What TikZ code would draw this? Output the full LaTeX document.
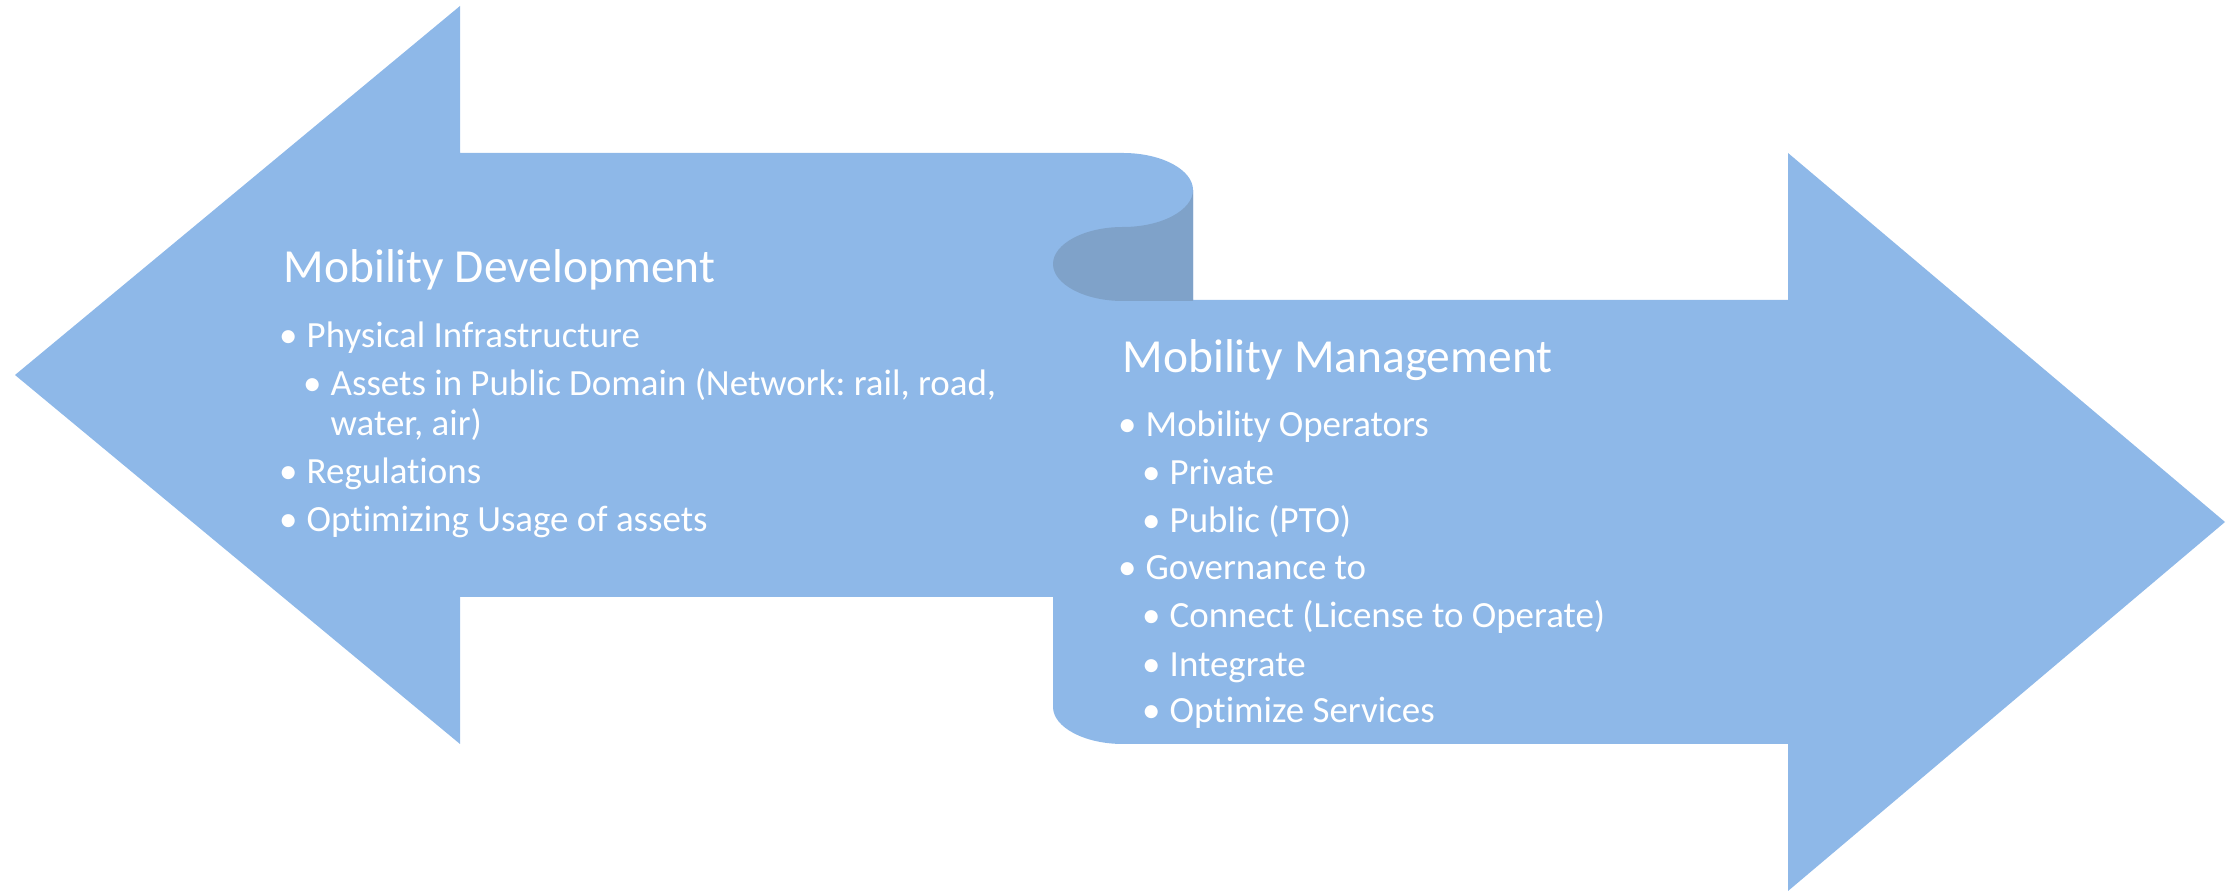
\documentclass[tikz,border=0pt]{standalone}
\usepackage{fontspec}
\setmainfont{Carlito}[Ligatures={NoCommon,NoContextual}]
\usepackage{tikz}
\frenchspacing
\definecolor{ribbon}{RGB}{142,184,232}
\definecolor{ribbonfold}{RGB}{127,162,201}
\newcommand{\blt}{\llap{\textbullet\hspace{2.6pt}}}

\begin{document}
\begin{tikzpicture}[x=0.01cm, y=-0.01cm, line join = round]
\tikzstyle{heading}=[anchor=base west, inner sep=0, text=white, font=\fontsize{13.5}{16}\selectfont]
\tikzstyle{entry}=[anchor=base west, inner sep=0, text=white, font=\fontsize{10.5}{12.5}\selectfont]
\useasboundingbox (0,0) rectangle (2239,892);

% ribbon: left arrow, fold, right arrow
\fill[ribbon] (15,375) -- (460,6) -- (460,153) -- (1123,153)
  .. controls (1162,153) and (1193,170) .. (1193,190) -- (1193,300)
  -- (1788,300) -- (1788,153) -- (2225,522) -- (1788,891) -- (1788,744)
  -- (1123,744) .. controls (1084,744) and (1053,727) .. (1053,707)
  -- (1053,597) -- (460,597) -- (460,744) -- cycle;
\fill[ribbonfold] (1193,190) .. controls (1193,210) and (1162,227) .. (1123,227)
  .. controls (1084,227) and (1053,244) .. (1053,264)
  .. controls (1053,284) and (1084,301) .. (1123,301) -- (1193,301) -- cycle;

% left text
\node[heading] (devTitle) at (283,283) {Mobility Development};
\node[entry] (dev1) at (306,348) {\blt Physical Infrastructure};
\node[entry] (dev2) at (330,396) {\blt Assets in Public Domain (Network: rail, road,};
\node[entry] (dev3) at (330,436) {water, air)};
\node[entry] (dev4) at (306,484) {\blt Regulations};
\node[entry] (dev5) at (306,532) {\blt Optimizing Usage of assets};

% right text
\node[heading] (mgmtTitle) at (1122,373) {Mobility Management};
\node[entry] (mgmt1) at (1145,437) {\blt Mobility Operators};
\node[entry] (mgmt2) at (1169,485) {\blt Private};
\node[entry] (mgmt3) at (1169,533) {\blt Public (PTO)};
\node[entry] (mgmt4) at (1145,580) {\blt Governance to};
\node[entry] (mgmt5) at (1169,628) {\blt Connect (License to Operate)};
\node[entry] (mgmt6) at (1169,677) {\blt Integrate};
\node[entry] (mgmt7) at (1169,723) {\blt Optimize Services};
\end{tikzpicture}
\end{document}
